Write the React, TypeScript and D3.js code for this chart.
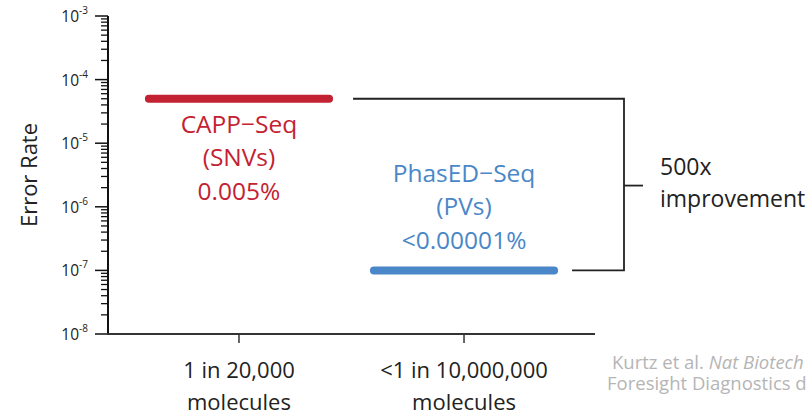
import React from "react";
import * as d3 from "d3";

const categories = ["1 in 20,000|molecules", "<1 in 10,000,000|molecules"];
const methods = ["CAPP−Seq", "PhasED−Seq"];
const subLabels = ["(SNVs)", "(PVs)"];
const rateLabels = ["0.005%", "<0.00001%"];
const errorRates = [5e-5, 1e-7];
const colors = ["#C32232", "#4A87C8"];
const yExponents = [-3, -4, -5, -6, -7, -8];
const improvementLabel = ["500x", "improvement"];
const citation = ["Kurtz et al. ", "Nat Biotech", "Foresight Diagnostics data"];

const W = 807;
const H = 412;

export default function App() {
  const y = d3.scaleLog().domain([1e-8, 1e-3]).range([334, 16]);
  const x = d3.scalePoint<string>().domain(categories).range([108, 595]).padding(0.582);
  const barHalf = x.step() * 0.418;
  const font = "'Open Sans', sans-serif";

  const minor: number[] = [];
  for (let e = -8; e < -3; e++) {
    for (let k = 2; k <= 9; k++) minor.push(k * Math.pow(10, e));
  }

  const yA = y(errorRates[0]);
  const yB = y(errorRates[1]);
  const xA = x(categories[0])!;
  const xB = x(categories[1])!;
  const bx = 624;

  return (
    <svg width={W} height={H} style={{ position: "absolute", left: 0, top: 0 }} fontFamily={font}>
      <rect width={W} height={H} fill="#fff" />
      {/* Y axis */}
      <line x1={108} x2={108} y1={y(1e-3)} y2={334} stroke="#111" strokeWidth={2} />
      {minor.map((v, i) => (
        <line key={"m" + i} x1={101} x2={108} y1={y(v)} y2={y(v)} stroke="#111" strokeWidth={1.3} />
      ))}
      {yExponents.map((e) => (
        <g key={e}>
          <line x1={95} x2={108} y1={y(Math.pow(10, e))} y2={y(Math.pow(10, e))} stroke="#111" strokeWidth={1.5} />
          <text x={88} y={y(Math.pow(10, e)) + 6} textAnchor="end" fontSize={15.5} fill="#222">
            10<tspan fontSize={10} dy={-8}>{e}</tspan>
          </text>
        </g>
      ))}
      <text transform={`translate(37,175) rotate(-90)`} textAnchor="middle" fontSize={22} fill="#222">
        Error Rate
      </text>
      {/* X axis */}
      <line x1={107} x2={595} y1={334} y2={334} stroke="#333" strokeWidth={2} />
      {categories.map((c) => (
        <g key={c}>
          <line x1={x(c)!} x2={x(c)!} y1={334} y2={343} stroke="#333" strokeWidth={1.5} />
          {c.split("|").map((t, i) => (
            <text key={i} x={x(c)!} y={378 + i * 32} textAnchor="middle" fontSize={22} fill="#222">
              {t}
            </text>
          ))}
        </g>
      ))}
      {/* bars */}
      {errorRates.map((v, i) => (
        <line
          key={i}
          x1={x(categories[i])! - barHalf + 4}
          x2={x(categories[i])! + barHalf - 4}
          y1={y(v)}
          y2={y(v)}
          stroke={colors[i]}
          strokeWidth={8}
          strokeLinecap="round"
        />
      ))}
      {/* labels */}
      {[0, 1].map((i) => {
        const base = i === 0 ? 133 : 182;
        return (
          <g key={i} fill={colors[i]} fontSize={24.5}>
            <text x={x(categories[i])} y={base} textAnchor="middle">{methods[i]}</text>
            <text x={x(categories[i])} y={base + 33} textAnchor="middle">{subLabels[i]}</text>
            <text x={x(categories[i])} y={base + 67} textAnchor="middle">{rateLabels[i]}</text>
          </g>
        );
      })}
      {/* bracket */}
      <path
        d={`M${xA + barHalf + 20},${yA}H${bx}V${yB}H${xB + barHalf + 14}`}
        fill="none"
        stroke="#222"
        strokeWidth={1.8}
      />
      <line x1={bx} x2={643} y1={(yA + yB) / 2 + 1} y2={(yA + yB) / 2 + 1} stroke="#222" strokeWidth={1.8} />
      <text x={660} y={175} fontSize={23} fill="#222">{improvementLabel[0]}</text>
      <text x={660} y={207} fontSize={23} fill="#222">{improvementLabel[1]}</text>
      {/* citation */}
      <text x={612} y={369} fontSize={18.5} fill="#b5b5b5">
        {citation[0]}
        <tspan fontStyle="italic">{citation[1]}</tspan>
      </text>
      <text x={607} y={390} fontSize={18.5} fill="#b5b5b5">{citation[2]}</text>
    </svg>
  );
}
